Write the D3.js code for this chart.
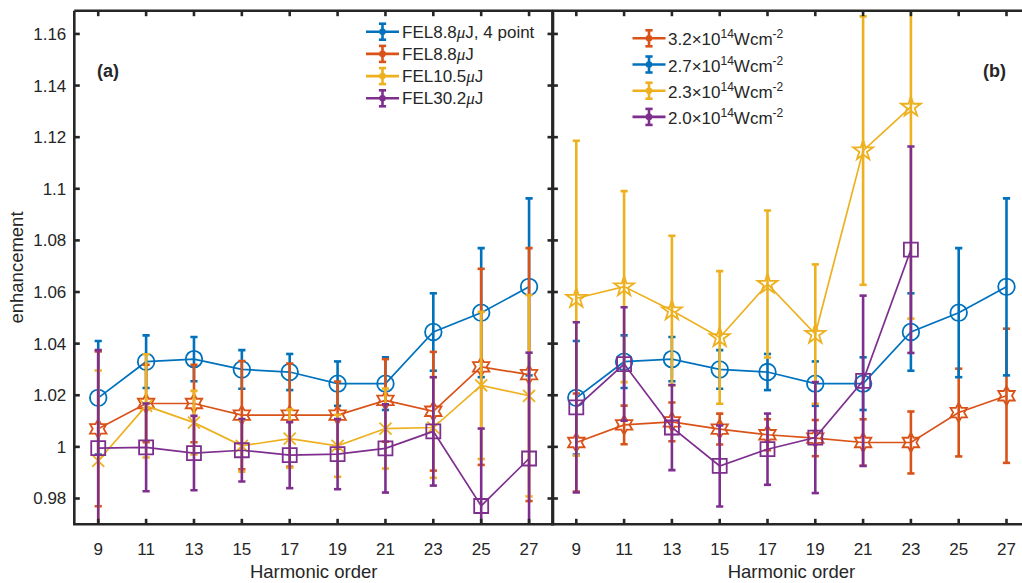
<!DOCTYPE html>
<html>
<head>
<meta charset="utf-8">
<script src="https://cdn.jsdelivr.net/npm/d3@7"></script>
<style>
  body { margin: 0; background: #fff; }
  text { font-family: "Liberation Sans", Arial, sans-serif; fill: #262626; }
</style>
</head>
<body>
<div id="chart"></div>
<script>
// harmonic orders and tick values
const harmonics = [9, 11, 13, 15, 17, 19, 21, 23, 25, 27];
const yTickVals = [0.98, 1, 1.02, 1.04, 1.06, 1.08, 1.1, 1.12, 1.14, 1.16];

// panel (a)
const aBlueY   = [1.019, 1.033, 1.034, 1.030, 1.029, 1.0245, 1.0245, 1.0445, 1.052, 1.062];
const aBlueErr = [0.022, 0.0102, 0.0086, 0.0075, 0.007, 0.0086, 0.0102, 0.015, 0.025, 0.0343];
const aOrangeY   = [1.007, 1.0168, 1.0168, 1.0123, 1.0123, 1.0123, 1.018, 1.0138, 1.031, 1.028];
const aOrangeErr = [0.030, 0.015, 0.015, 0.021, 0.020, 0.013, 0.016, 0.023, 0.038, 0.049];
const aYellowY   = [0.9946, 1.0159, 1.0094, 1.0004, 1.0032, 1.0004, 1.0071, 1.0075, 1.0238, 1.0198];
const aYellowErr = [0.035, 0.02, 0.0123, 0.010, 0.0113, 0.012, 0.0155, 0.0195, 0.0285, 0.039];
const aPurpleY   = [0.9995, 0.9998, 0.9976, 0.9987, 0.9968, 0.9972, 0.9994, 1.006, 0.9771, 0.9955];
const aPurpleErr = [0.038, 0.017, 0.0144, 0.0121, 0.0128, 0.0136, 0.0171, 0.021, 0.030, 0.041];
// [prefix, suffix] around an italic mu
const aLabels = [["FEL8.8", "J, 4 point"], ["FEL8.8", "J"], ["FEL10.5", "J"], ["FEL30.2", "J"]];

// panel (b)
const bOrangeY   = [1.0017, 1.0085, 1.0097, 1.0069, 1.0047, 1.0034, 1.0017, 1.0017, 1.0133, 1.0198];
const bOrangeErr = [0.019, 0.0075, 0.0075, 0.006, 0.006, 0.007, 0.009, 0.012, 0.017, 0.026];
const bBlueY   = [1.019, 1.033, 1.034, 1.030, 1.029, 1.0245, 1.0245, 1.0445, 1.052, 1.062];
const bBlueErr = [0.022, 0.0102, 0.0086, 0.0075, 0.007, 0.0086, 0.0102, 0.015, 0.025, 0.0343];
const bYellowY   = [1.0576, 1.0621, 1.0528, 1.0424, 1.0631, 1.0437, 1.1148, 1.1317];
const bYellowErr = [0.061, 0.037, 0.029, 0.0257, 0.0285, 0.027, 0.052, 0.082];
const bPurpleY   = [1.0153, 1.0321, 1.0075, 0.9926, 0.9991, 1.0036, 1.0256, 1.0764];
const bPurpleErr = [0.033, 0.022, 0.0165, 0.0157, 0.0138, 0.0215, 0.033, 0.040];
const bLabels = [["3.2", "14", "-2"], ["2.7", "14", "-2"], ["2.3", "14", "-2"], ["2.0", "14", "-2"]];

const blue = "#0072BD", orange = "#D95319", yellow = "#EDB120", purple = "#7E2F8E";
const axisColor = "#262626";

const width = 1022, height = 583;
const plotTop = 10.7, plotBottom = 524.3;

let svg = d3.select("#chart")
    .append("svg")
    .attr("width", width)
    .attr("height", height);

let y = d3.scaleLinear()
    .domain([0.97, 1.169])
    .range([plotBottom, plotTop]);

function starPath(points, R, r) {
    let pts = [];
    for (let i = 0; i < points * 2; i++) {
        let rad = i % 2 == 0 ? R : r;
        let a = -Math.PI / 2 + i * Math.PI / points;
        pts.push([rad * Math.cos(a), rad * Math.sin(a)]);
    }
    return "M" + pts.map(p => p[0].toFixed(2) + "," + p[1].toFixed(2)).join("L") + "Z";
}

function markerPath(kind) {
    if (kind == "o") return d3.symbol().type(d3.symbolCircle).size(Math.PI * 8.3 * 8.3)();
    if (kind == "s") return "M-7,-7L7,-7L7,7L-7,7Z";
    if (kind == "h") return starPath(6, 9.5, 9.5 / Math.sqrt(3));
    if (kind == "p") return starPath(5, 10.5, 10.5 * 0.382);
    if (kind == "x") return "M-6,-6L6,6M-6,6L6,-6";
}

function drawPanel(x0, x1, id, series, showYLabels) {
    let x = d3.scaleLinear().domain([8, 28]).range([x0, x1]);

    svg.append("clipPath").attr("id", "clip" + id)
        .append("rect")
        .attr("x", x0).attr("y", plotTop)
        .attr("width", x1 - x0).attr("height", plotBottom - plotTop);

    let plot = svg.append("g").attr("clip-path", `url(#clip${id})`);

    series.forEach(function(s) {
        let data = s.y.map((v, i) => ({h: harmonics[i], v: v, e: s.err[i]}));
        let g = plot.append("g");

        // error bars
        data.forEach(function(d) {
            let cx = x(d.h);
            g.append("line")
                .attr("x1", cx).attr("x2", cx)
                .attr("y1", y(d.v - d.e)).attr("y2", y(d.v + d.e))
                .attr("stroke", s.color).attr("stroke-width", 2.6);
            [d.v - d.e, d.v + d.e].forEach(function(c) {
                g.append("line")
                    .attr("x1", cx - 3.6).attr("x2", cx + 3.6)
                    .attr("y1", y(c)).attr("y2", y(c))
                    .attr("stroke", s.color).attr("stroke-width", 2.6);
            });
        });

        g.append("path")
            .datum(data)
            .attr("fill", "none")
            .attr("stroke", s.color)
            .attr("stroke-width", 1.7)
            .attr("d", d3.line().x(d => x(d.h)).y(d => y(d.v)));

        g.selectAll(".mk").data(data).enter()
            .append("path")
            .attr("transform", d => `translate(${x(d.h)},${y(d.v)})`)
            .attr("d", markerPath(s.marker))
            .attr("fill", "none")
            .attr("stroke", s.color)
            .attr("stroke-width", 1.8)
            .attr("stroke-linejoin", "miter");
    });

    // frame
    let frame = svg.append("g");
    frame.append("path")
        .attr("d", `M${x0},${plotTop}L${x1},${plotTop}M${x0},${plotTop}L${x0},${plotBottom}L${x1},${plotBottom}L${x1},${plotTop}`)
        .attr("fill", "none")
        .attr("stroke", axisColor)
        .attr("stroke-width", 2.6);

    harmonics.forEach(function(h) {
        frame.append("line").attr("x1", x(h)).attr("x2", x(h))
            .attr("y1", plotBottom).attr("y2", plotBottom - 5.5)
            .attr("stroke", axisColor).attr("stroke-width", 2.6);
        frame.append("line").attr("x1", x(h)).attr("x2", x(h))
            .attr("y1", plotTop).attr("y2", plotTop + 5.5)
            .attr("stroke", axisColor).attr("stroke-width", 2.6);
        svg.append("text")
            .attr("x", x(h)).attr("y", plotBottom + 31)
            .style("text-anchor", "middle")
            .style("font-size", "17px")
            .text(h);
    });

    yTickVals.forEach(function(v) {
        frame.append("line").attr("x1", x0).attr("x2", x0 + 5.5)
            .attr("y1", y(v)).attr("y2", y(v))
            .attr("stroke", axisColor).attr("stroke-width", 2.6);
        frame.append("line").attr("x1", x1).attr("x2", x1 - 5.5)
            .attr("y1", y(v)).attr("y2", y(v))
            .attr("stroke", axisColor).attr("stroke-width", 2.6);
        if (showYLabels) {
            svg.append("text")
                .attr("x", x0 - 8).attr("y", y(v) + 6)
                .style("text-anchor", "end")
                .style("font-size", "17px")
                .text(v);
        }
    });

    svg.append("text")
        .attr("x", x(18)).attr("y", 578)
        .style("text-anchor", "middle")
        .style("font-size", "18.5px")
        .text("Harmonic order");

    return x;
}

function legendSample(g, cx, cy, color) {
    g.append("line").attr("x1", cx - 16.5).attr("x2", cx + 16.5)
        .attr("y1", cy).attr("y2", cy)
        .attr("stroke", color).attr("stroke-width", 2.6);
    g.append("line").attr("x1", cx).attr("x2", cx)
        .attr("y1", cy - 8).attr("y2", cy + 8)
        .attr("stroke", color).attr("stroke-width", 2.6);
    [cy - 8, cy + 8].forEach(c => g.append("line")
        .attr("x1", cx - 3.6).attr("x2", cx + 3.6).attr("y1", c).attr("y2", c)
        .attr("stroke", color).attr("stroke-width", 2.6));
    g.append("circle").attr("cx", cx).attr("cy", cy).attr("r", 3.3).attr("fill", color);
}

drawPanel(74.3, 553, "a", [
    {y: aBlueY, err: aBlueErr, color: blue, marker: "o"},
    {y: aOrangeY, err: aOrangeErr, color: orange, marker: "h"},
    {y: aYellowY, err: aYellowErr, color: yellow, marker: "x"},
    {y: aPurpleY, err: aPurpleErr, color: purple, marker: "s"}
], true);

drawPanel(552.4, 1030.4, "b", [
    {y: bOrangeY, err: bOrangeErr, color: orange, marker: "h"},
    {y: bBlueY, err: bBlueErr, color: blue, marker: "o"},
    {y: bYellowY, err: bYellowErr, color: yellow, marker: "p"},
    {y: bPurpleY, err: bPurpleErr, color: purple, marker: "s"}
], false);

// y label
svg.append("text")
    .attr("transform", `translate(23, ${(plotTop + plotBottom) / 2})rotate(-90)`)
    .style("text-anchor", "middle")
    .style("font-size", "18.5px")
    .text("enhancement");

// panel tags
svg.append("text").attr("x", 97).attr("y", 77)
    .style("font-size", "18px").style("font-weight", "bold").text("(a)");
svg.append("text").attr("x", 983).attr("y", 77)
    .style("font-size", "18px").style("font-weight", "bold").text("(b)");

// legend (a)
let legA = svg.append("g");
[blue, orange, yellow, purple].forEach(function(c, i) {
    let cy = 31.7 + i * 22.2;
    legendSample(legA, 382.5, cy, c);
    let t = legA.append("text").attr("x", 402).attr("y", cy + 6)
        .style("font-size", "17px");
    t.append("tspan").text(aLabels[i][0]);
    t.append("tspan").style("font-style", "italic").style("font-family", "'Liberation Serif', serif").text("\u03bc");
    t.append("tspan").text(aLabels[i][1]);
});

// legend (b)
let legB = svg.append("g");
[orange, blue, yellow, purple].forEach(function(c, i) {
    let cy = 38.3 + i * 26.2;
    legendSample(legB, 649, cy, c);
    let t = legB.append("text").attr("x", 668).attr("y", cy + 7)
        .style("font-size", "17px");
    t.append("tspan").text(bLabels[i][0] + "\u00d710");
    t.append("tspan").attr("dy", -7).style("font-size", "12px").text(bLabels[i][1]);
    t.append("tspan").attr("dy", 7).text("Wcm");
    t.append("tspan").attr("dy", -7).style("font-size", "12px").text(bLabels[i][2]);
});
</script>
</body>
</html>
